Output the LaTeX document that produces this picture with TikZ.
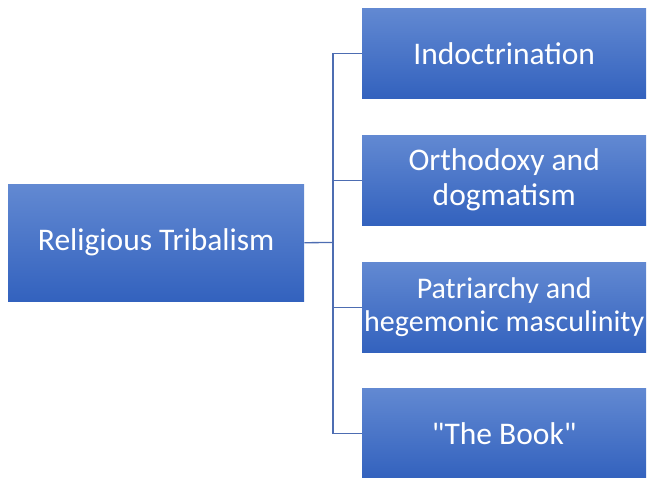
\documentclass[tikz,border=0pt]{standalone}
\usepackage{fontspec}
\setmainfont{Carlito}
\newfontfamily\plainq{Carlito}[Ligatures=TeXOff]
\begin{document}
\begin{tikzpicture}[x=1pt,y=-1pt,
  boxst/.style={rectangle, top color=blue1, bottom color=blue2, draw=none, text=white, align=center, inner sep=0pt, anchor=north west},
  conn/.style={draw=linec, line width=1.3pt}]
\definecolor{blue1}{HTML}{6289D2}
\definecolor{blue2}{HTML}{3362BE}
\definecolor{linec}{HTML}{4D6DB2}
\useasboundingbox (0,0) rectangle (650,478);
\node[boxst, minimum width=296pt, minimum height=117pt, font=\fontsize{31.5}{35}\selectfont] (main) at (8,184) {Religious Tribalism};
\node[boxst, minimum width=284pt, minimum height=90pt, font=\fontsize{31.5}{35}\selectfont] (a) at (362,8) {Indoctrination};
\node[boxst, minimum width=284pt, minimum height=90pt, font=\fontsize{31.5}{35}\selectfont] (b) at (362,135) {Orthodoxy and\\dogmatism};
\node[boxst, minimum width=284pt, minimum height=90pt, font=\fontsize{30}{33}\selectfont] (c) at (362,262) {Patriarchy and\\hegemonic masculinity};
\node[boxst, minimum width=284pt, minimum height=90pt, font=\fontsize{31.5}{35}\selectfont\plainq] (d) at (362,388) {"The Book"};
\coordinate (j) at (333,242.5);
\draw[conn] (main.east) -- (j);
\draw[conn] (a.west) -| (j) |- (d.west);
\draw[conn] (b.west) -| (j);
\draw[conn] (c.west) -| (j);
\end{tikzpicture}
\end{document}
